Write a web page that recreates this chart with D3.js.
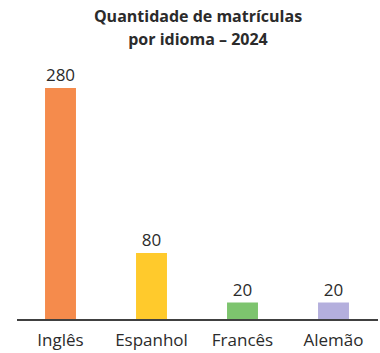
<!DOCTYPE html>
<html>
<head>
<meta charset="utf-8">
<script src="https://cdn.jsdelivr.net/npm/d3@7"></script>
<style>
  body { margin: 0; background: #fff; }
  text { font-family: "Open Sans", sans-serif; }
</style>
</head>
<body>
<div id="chart"></div>
<script>
// chart data
const categories = ["Inglês", "Espanhol", "Francês", "Alemão"];
const values = [280, 80, 20, 20];
const colors = ["#F58B4C", "#FFCA2C", "#7DC46E", "#B4AFDD"];
const titleLines = ["Quantidade de matrículas", "por idioma – 2024"];

const width = 380, height = 353;
const baseline = 319;

let svg = d3.select("#chart")
    .append("svg")
    .attr("width", width)
    .attr("height", height);

//Creating scales
let xScale = d3.scaleBand()
    .domain(categories)
    .range([15, 379])
    .paddingInner(0.66)
    .paddingOuter(0.33);

let yScale = d3.scaleLinear()
    .domain([0, 280])
    .range([baseline, 88]);

//Title
svg.append("text")
    .attr("x", 198)
    .attr("y", 22)
    .attr("text-anchor", "middle")
    .attr("font-size", "16px")
    .attr("font-weight", "bold")
    .attr("fill", "#2b2b2b")
    .selectAll("tspan")
    .data(titleLines)
    .join("tspan")
    .attr("x", 198)
    .attr("dy", (d, i) => i === 0 ? 0 : 23)
    .text(d => d);

//Bars
svg.append("g")
    .selectAll("rect")
    .data(values)
    .join("rect")
    .attr("x", (d, i) => xScale(categories[i]))
    .attr("y", d => yScale(d))
    .attr("width", xScale.bandwidth())
    .attr("height", d => baseline - yScale(d))
    .attr("fill", (d, i) => colors[i]);

//Value labels
svg.append("g")
    .selectAll("text")
    .data(values)
    .join("text")
    .attr("x", (d, i) => xScale(categories[i]) + xScale.bandwidth() / 2)
    .attr("y", d => yScale(d) - 7)
    .attr("text-anchor", "middle")
    .attr("font-size", "17px")
    .attr("fill", "#2b2b2b")
    .text(d => d);

//Axis
let xAxis = d3.axisBottom(xScale).tickSize(0).tickPadding(15);

svg.append("g")
    .attr("transform", `translate(0, ${baseline})`)
    .call(xAxis)
    .call(g => g.select(".domain").remove())
    .call(g => g.selectAll("text")
        .attr("font-family", "'Open Sans', sans-serif")
        .attr("font-size", "17px")
        .attr("fill", "#2b2b2b"));

svg.append("line")
    .attr("x1", 17)
    .attr("x2", 378)
    .attr("y1", baseline + 1)
    .attr("y2", baseline + 1)
    .attr("stroke", "#404040")
    .attr("stroke-width", 2);
</script>
</body>
</html>
